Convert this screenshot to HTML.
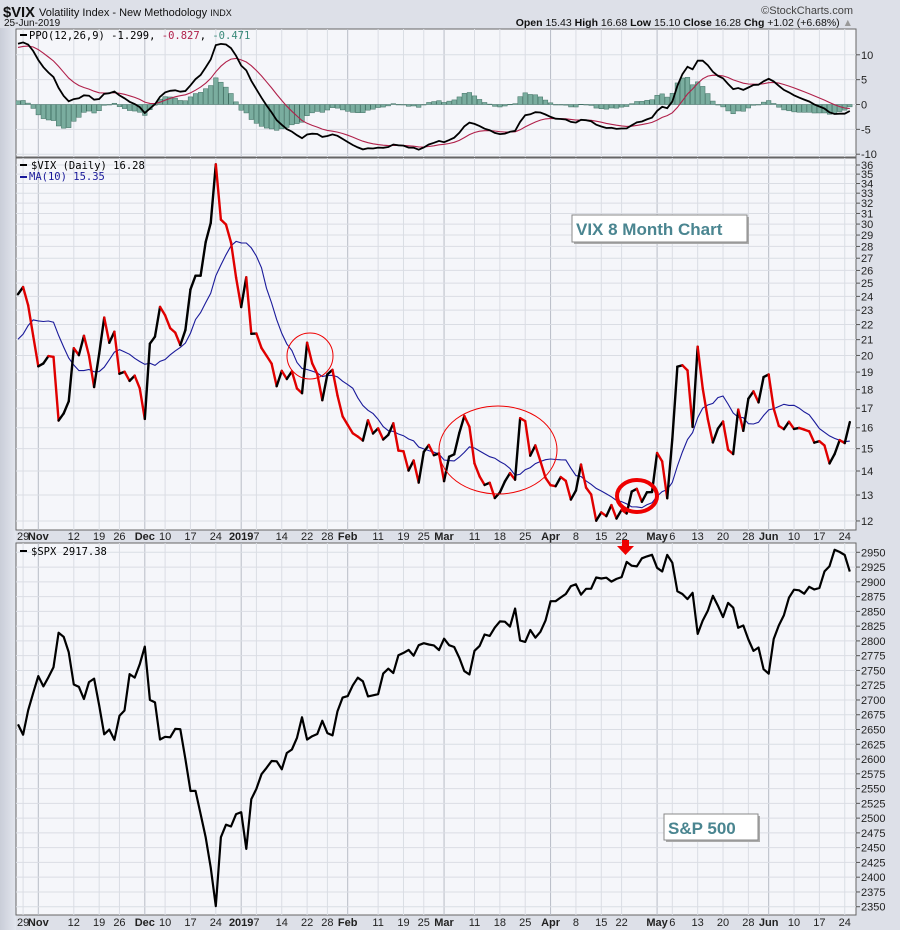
<!DOCTYPE html>
<html><head><meta charset="utf-8"><style>
body{margin:0;background:#dde0e8;}
svg{display:block;font-family:"Liberation Sans",sans-serif;}
</style></head><body>
<svg id="chart" width="900" height="930" viewBox="0 0 900 930" xmlns="http://www.w3.org/2000/svg">
<defs><linearGradient id="lg" x1="0" x2="1"><stop offset="0" stop-color="#c9cdd8"/><stop offset="1" stop-color="#e3e6ee"/></linearGradient></defs>
<rect x="0" y="0" width="900" height="930" fill="#dde0e8"/>
<rect x="0" y="28" width="16" height="902" fill="url(#lg)"/>
<g>
<text x="3" y="17" font-size="15" font-weight="bold" fill="#111" textLength="32" lengthAdjust="spacingAndGlyphs">$VIX</text>
<text x="39" y="16" font-size="11" fill="#111">Volatility Index - New Methodology <tspan font-size="9">INDX</tspan></text>
<text x="853" y="14" font-size="11" fill="#444" text-anchor="end">©StockCharts.com</text>
<text x="4" y="26" font-size="10" fill="#111">25-Jun-2019</text>
<text x="853" y="26" font-size="10.5" fill="#111" text-anchor="end"><tspan font-weight="bold">Open</tspan> 15.43 <tspan font-weight="bold">High</tspan> 16.68 <tspan font-weight="bold">Low</tspan> 15.10 <tspan font-weight="bold">Close</tspan> 16.28 <tspan font-weight="bold">Chg</tspan> +1.02 (+6.68%) <tspan fill="#999">▲</tspan></text>
</g>
<rect x="16" y="29" width="840" height="128" fill="#f5f6fa" stroke="#666"/>
<rect x="16" y="158" width="840" height="372" fill="#f5f6fa" stroke="#666"/>
<rect x="16" y="543" width="840" height="372" fill="#f5f6fa" stroke="#666"/>
<g id="grid"></g>
<g id="series"></g>
<g id="annot"></g>
</svg>
<script>
// ---- data ----
const dates = ["Oct26","Oct29","Oct30","Oct31","Nov1","Nov2","Nov5","Nov6","Nov7","Nov8","Nov9","Nov12","Nov13","Nov14","Nov15","Nov16","Nov19","Nov20","Nov21","Nov23","Nov26","Nov27","Nov28","Nov29","Nov30","Dec3","Dec4","Dec6","Dec7","Dec10","Dec11","Dec12","Dec13","Dec14","Dec17","Dec18","Dec19","Dec20","Dec21","Dec24","Dec26","Dec27","Dec28","Dec31","Jan2","Jan3","Jan4","Jan7","Jan8","Jan9","Jan10","Jan11","Jan14","Jan15","Jan16","Jan17","Jan18","Jan22","Jan23","Jan24","Jan25","Jan28","Jan29","Jan30","Jan31","Feb1","Feb4","Feb5","Feb6","Feb7","Feb8","Feb11","Feb12","Feb13","Feb14","Feb15","Feb19","Feb20","Feb21","Feb22","Feb25","Feb26","Feb27","Feb28","Mar1","Mar4","Mar5","Mar6","Mar7","Mar8","Mar11","Mar12","Mar13","Mar14","Mar15","Mar18","Mar19","Mar20","Mar21","Mar22","Mar25","Mar26","Mar27","Mar28","Mar29","Apr1","Apr2","Apr3","Apr4","Apr5","Apr8","Apr9","Apr10","Apr11","Apr12","Apr15","Apr16","Apr17","Apr18","Apr22","Apr23","Apr24","Apr25","Apr26","Apr29","Apr30","May1","May2","May3","May6","May7","May8","May9","May10","May13","May14","May15","May16","May17","May20","May21","May22","May23","May24","May28","May29","May30","May31","Jun3","Jun4","Jun5","Jun6","Jun7","Jun10","Jun11","Jun12","Jun13","Jun14","Jun17","Jun18","Jun19","Jun20","Jun21","Jun24","Jun25"];
const vixPrior = [21.30,17.62,17.40,20.06,19.89,19.64,20.71,25.23,24.22];
const vix = [24.16,24.70,23.35,21.23,19.34,19.51,19.96,19.91,16.36,16.72,17.36,20.45,20.02,21.25,19.98,18.14,20.10,22.48,20.80,21.52,18.90,19.02,18.49,18.79,18.07,16.44,20.74,21.19,23.23,22.64,21.76,21.46,20.65,21.63,24.52,25.58,25.58,28.38,30.11,36.07,30.41,29.96,28.34,25.42,23.22,25.45,21.38,21.40,20.47,19.98,19.50,18.19,19.07,18.60,19.04,18.06,17.80,20.80,19.52,18.89,17.42,18.87,19.13,17.66,16.57,16.14,15.73,15.57,15.38,16.37,15.72,15.97,15.43,15.65,16.22,14.91,14.88,14.02,14.46,13.51,14.85,15.17,14.70,14.78,13.57,14.63,14.74,15.74,16.59,16.05,14.33,13.77,13.41,13.50,12.88,13.10,13.56,13.91,13.63,16.48,16.33,14.68,15.15,14.43,13.71,13.40,13.36,13.74,13.58,12.82,13.18,14.28,13.30,13.02,12.01,12.32,12.18,12.60,12.09,12.42,12.28,13.14,13.25,12.73,13.11,13.12,14.80,14.42,12.87,15.44,19.32,19.40,19.10,16.04,20.55,18.06,16.44,15.29,15.96,16.31,14.95,14.75,16.92,15.85,17.50,17.90,17.30,18.71,18.86,16.97,16.09,15.93,16.30,15.94,15.99,15.91,15.82,15.28,15.35,15.15,14.33,14.75,15.40,15.26,16.28];
const spx = [2658.69,2641.25,2682.63,2711.74,2740.37,2723.06,2738.31,2755.45,2813.89,2806.83,2781.01,2726.22,2722.18,2701.58,2730.20,2736.27,2690.73,2641.89,2649.93,2632.56,2673.45,2682.17,2743.79,2737.80,2760.17,2790.37,2700.06,2695.95,2633.08,2637.72,2636.78,2651.07,2650.54,2599.95,2545.94,2546.16,2506.96,2467.42,2416.62,2351.10,2467.70,2488.83,2485.74,2506.85,2510.03,2447.89,2531.94,2549.69,2574.41,2584.96,2596.64,2596.26,2582.61,2610.30,2616.10,2635.96,2670.71,2632.90,2638.70,2642.33,2664.76,2643.85,2640.00,2681.05,2704.10,2706.53,2724.87,2737.70,2731.61,2706.05,2707.88,2709.80,2744.73,2753.03,2745.73,2775.60,2779.76,2784.70,2774.88,2792.67,2796.11,2793.90,2792.38,2784.49,2803.69,2792.81,2789.65,2771.45,2748.93,2743.07,2783.30,2791.52,2810.92,2808.48,2822.48,2832.94,2832.57,2824.23,2854.88,2800.71,2798.36,2818.46,2805.37,2815.44,2834.40,2867.19,2867.24,2873.40,2879.39,2892.74,2895.77,2878.20,2888.21,2888.32,2907.41,2905.58,2907.06,2900.45,2905.03,2907.97,2933.68,2927.25,2926.17,2939.88,2943.03,2945.83,2923.73,2917.52,2945.64,2932.47,2884.05,2879.42,2870.72,2881.40,2811.87,2834.41,2850.96,2876.32,2859.53,2840.23,2864.36,2856.27,2822.24,2826.06,2802.39,2783.02,2788.86,2752.06,2744.45,2803.27,2826.15,2843.49,2873.34,2886.73,2885.72,2879.84,2891.64,2886.98,2889.67,2917.75,2926.46,2954.18,2950.46,2945.35,2917.38];
const ppoSeed = [20.7, 18.5, 11.3]; // EMA12, EMA26, signal before first day
const xLabels = ["29","Nov","12","19","26","Dec","10","17","24","2019","7","14","22","28","Feb","11","19","25","Mar","11","18","25","Apr","8","15","22","May","6","13","20","28","Jun","10","17","24"];
const xLabelIdx = [1,4,11,16,20,25,29,34,39,44,47,52,57,61,65,71,76,80,84,90,95,100,105,110,115,119,126,129,134,139,144,148,153,158,163];
const vixTicks = [12,13,14,15,16,17,18,19,20,21,22,23,24,25,26,27,28,29,30,31,32,33,34,35,36];
const spxTicks = [2350,2375,2400,2425,2450,2475,2500,2525,2550,2575,2600,2625,2650,2675,2700,2725,2750,2775,2800,2825,2850,2875,2900,2925,2950];
const ppoTicks = [10,5,0,-5,-10];

// ---- scales ----
const NS="http://www.w3.org/2000/svg";
const X = i => 38.3 + (i-4)*5.072;
const yV = v => 165 + (Math.log(36)-Math.log(v))*324;
const yS = v => 552.3 + (2950-v)*0.5907;
const yP = v => 104.5 - v*4.97;
function mk(tag, attrs, parent){const e=document.createElementNS(NS,tag);for(const k in attrs)e.setAttribute(k,attrs[k]);parent.appendChild(e);return e;}
const grid=document.getElementById('grid'), ser=document.getElementById('series'), ann=document.getElementById('annot');
const months = new Set(["Nov","Dec","2019","Feb","Mar","Apr","May","Jun"]);
const panels=[[29,157],[158,530],[543,915]];

xLabels.forEach((l,k)=>{
  const x=X(xLabelIdx[k]);
  panels.forEach(p=>{
    const ln=mk('line',{x1:x,x2:x,y1:p[0],y2:p[1],stroke:months.has(l)?'#b8bcc6':'#dadde4','stroke-width':1},grid);
    
    
  });
  [540,926].forEach(y=>{
    const t=mk('text',{x:x,y:y,'font-size':11,'text-anchor':'middle',fill:'#222','font-weight':months.has(l)?'bold':'normal'},grid);
    t.textContent=l;
    
    
  });
});
function yAxis(ticks, fy, name){
  ticks.forEach(v=>{
    const y=fy(v);
    const ln=mk('line',{x1:16,x2:856,y1:y,y2:y,stroke:'#dadde4','stroke-width':1},grid);
    
    
    const tk=mk('line',{x1:856,x2:860,y1:y,y2:y,stroke:'#555','stroke-width':1},grid);
    
    
    const t=mk('text',{x:861,y:y+4,'font-size':11,fill:'#222'},grid);
    t.textContent=v;
    
    
  });
}
yAxis(ppoTicks,yP,'ppo-y');
yAxis(vixTicks,yV,'vix-y');
yAxis(spxTicks,yS,'spx-y');

let e12=ppoSeed[0], e26=ppoSeed[1], sig=ppoSeed[2];
const ppo=[], ppoSig=[];
vix.forEach(v=>{e12+= (v-e12)*2/13; e26+=(v-e26)*2/27; const p=(e12-e26)/e26*100; sig+=(p-sig)*0.2; ppo.push(p); ppoSig.push(sig);});
const clip = mk('clipPath',{id:'ppoclip'},ser); mk('rect',{x:16,y:29,width:840,height:128},clip);
const gP = mk('g',{'clip-path':'url(#ppoclip)'},ser);


ppo.forEach((p,i)=>{
  const h=p-ppoSig[i]; const y0=yP(0), y1=yP(h);
  const r=mk('rect',{x:X(i)-2.3,y:Math.min(y0,y1),width:4.6,height:Math.max(0.5,Math.abs(y1-y0)),fill:'#7aad9f',stroke:'#3f6f62','stroke-width':0.5},gP);
  
  
});
const pl=(arr,fy)=>arr.map((v,i)=>X(i).toFixed(1)+','+fy(v).toFixed(1)).join(' ');
let l1=mk('polyline',{points:pl(ppoSig,yP),fill:'none',stroke:'#b0204a','stroke-width':1.1},gP);


let l2=mk('polyline',{points:pl(ppo,yP),fill:'none',stroke:'#000','stroke-width':1.8},gP);



const full=vixPrior.concat(vix);
const ma=vix.map((v,i)=>{let s=0;for(let k=i;k<i+10;k++)s+=full[k];return s/10;});
let lm=mk('polyline',{points:pl(ma,yV),fill:'none',stroke:'#1a1a9a','stroke-width':1.1},ser);


for(let i=1;i<vix.length;i++){
  const s=mk('line',{x1:X(i-1),y1:yV(vix[i-1]),x2:X(i),y2:yV(vix[i]),stroke:vix[i]<vix[i-1]?'#e00000':'#000','stroke-width':2.4,'stroke-linecap':'round'},ser);
  
  
}
let ls=mk('polyline',{points:pl(spx,yS),fill:'none',stroke:'#000','stroke-width':2.2,'stroke-linejoin':'round'},ser);



document.getElementById('annot').innerHTML = `
<g font-family="DejaVu Sans Mono, Liberation Mono, monospace" font-size="10.5">
<rect x="20" y="34" width="7" height="2" fill="#000"/>
<text x="29" y="39" fill="#000">PPO(12,26,9) -1.299, <tspan fill="#b0204a">-0.827</tspan>, <tspan fill="#3a8a7a">-0.471</tspan></text></g>
<g font-family="DejaVu Sans Mono, Liberation Mono, monospace" font-size="10.5">
<rect x="20" y="164" width="7" height="2" fill="#000"/><text x="31" y="169" fill="#000">$VIX (Daily) 16.28</text>
<rect x="20" y="176" width="7" height="2" fill="#1a1a9a"/><text x="29" y="180" fill="#1a1a9a">MA(10) 15.35</text></g>
<g font-family="DejaVu Sans Mono, Liberation Mono, monospace" font-size="10.5">
<rect x="20" y="550" width="7" height="2" fill="#000"/><text x="31" y="555" fill="#000">$SPX 2917.38</text></g>
<ellipse cx="310" cy="356" rx="23" ry="23" fill="none" stroke="#e00" stroke-width="1"/>
<ellipse cx="498" cy="450" rx="59" ry="44" fill="none" stroke="#e00" stroke-width="1"/>
<ellipse cx="637" cy="496" rx="20" ry="16" fill="none" stroke="#e00" stroke-width="4"/>
<g>
<rect x="574" y="217" width="175" height="27" fill="#aaa"/>
<rect x="572" y="215" width="175" height="27" fill="#fff" stroke="#888"/>
<text x="576" y="235" font-size="17" font-weight="bold" fill="#4a8590">VIX 8 Month Chart</text></g>
<g>
<rect x="666" y="816" width="94" height="26" fill="#aaa"/>
<rect x="664" y="814" width="94" height="26" fill="#fff" stroke="#888"/>
<text x="668" y="834" font-size="17" font-weight="bold" fill="#4a8590">S&amp;P 500</text></g>
<g><rect x="622" y="540" width="7" height="6" fill="#e00"/><polygon points="617,546 634,546 625.5,555" fill="#e00"/></g>`;
</script>
</body></html>
